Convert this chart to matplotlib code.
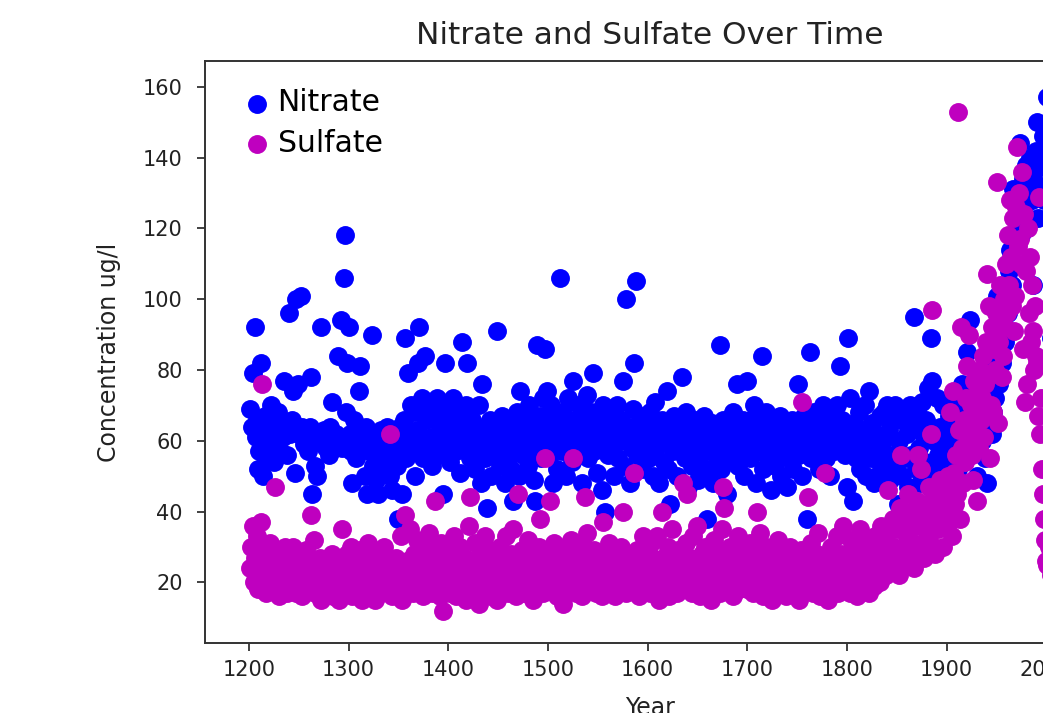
import matplotlib
matplotlib.use("Agg")
import matplotlib.pyplot as plt

nitrate_data = [
    (1201,69),(1203,64),(1204,79),(1206,92),(1207,61),(1208,66),(1209,52),(1210,57),(1212,82),(1213,60),
    (1214,50),(1216,67),(1217,55),(1219,63),(1220,58),(1222,70),(1223,62),(1225,54),(1226,64),(1228,60),
    (1229,68),(1231,57),(1232,63),(1234,61),(1235,77),(1237,65),(1238,56),(1240,96),(1241,62),(1243,66),
    (1244,74),(1246,51),(1247,100),(1249,76),(1250,62),(1252,101),(1253,64),(1255,59),(1256,62),(1258,63),
    (1259,57),(1261,64),(1262,78),(1263,45),(1265,61),(1266,53),(1268,50),(1269,60),(1271,62),(1272,92),
    (1274,59),(1275,63),(1277,58),(1278,62),(1280,56),(1281,64),(1283,71),(1284,60),(1286,58),(1287,62),
    (1289,84),(1290,60),(1292,94),(1293,58),(1295,106),(1296,118),(1297,68),(1298,82),(1300,92),
    (1301,62),(1302,57),(1303,48),(1305,60),(1306,66),(1308,55),(1309,61),(1311,74),(1312,81),(1314,58),
    (1315,62),(1317,50),(1318,64),(1319,45),(1321,57),(1322,62),(1324,90),(1325,53),(1327,61),(1328,49),
    (1330,45),(1331,58),(1333,63),(1334,55),(1336,60),(1337,52),(1339,64),(1340,58),(1342,50),(1343,62),
    (1344,46),(1346,57),(1347,61),(1349,53),(1350,38),(1352,64),(1353,59),(1354,45),(1356,66),(1357,89),
    (1358,55),(1360,79),(1361,62),(1363,70),(1364,57),(1366,68),(1367,50),(1369,63),(1370,82),(1371,92),
    (1372,60),(1374,72),(1375,55),(1377,84),(1378,66),(1380,58),(1381,70),(1383,61),(1384,53),(1386,67),
    (1387,60),(1389,72),(1390,56),(1392,63),(1393,69),(1395,45),(1396,58),(1397,82),(1399,64),
    (1400,66),(1402,54),(1403,60),(1405,72),(1406,62),(1408,57),(1409,68),(1411,63),(1412,51),(1414,88),
    (1415,65),(1417,58),(1418,70),(1419,82),(1421,61),(1422,55),(1424,66),(1425,60),(1427,52),(1428,64),
    (1430,57),(1431,70),(1433,48),(1434,76),(1436,62),(1437,55),(1439,41),(1440,60),(1442,66),(1443,50),
    (1445,58),(1446,63),(1448,56),(1449,91),(1451,61),(1452,53),(1454,67),(1455,58),(1457,48),(1458,62),
    (1460,55),(1461,65),(1463,52),(1465,43),(1466,60),(1468,57),(1469,68),(1471,50),(1472,74),(1474,63),
    (1475,56),(1477,66),(1478,60),(1480,53),(1481,70),(1483,58),(1484,64),(1486,49),(1487,43),(1489,87),
    (1490,61),(1492,67),(1493,55),(1495,72),(1496,59),(1497,86),(1499,74),
    (1500,63),(1502,56),(1503,70),(1505,48),(1506,66),(1508,59),(1509,52),(1511,64),(1512,106),(1514,57),
    (1515,68),(1517,61),(1518,50),(1520,72),(1521,58),(1523,64),(1524,54),(1525,77),(1527,60),(1528,66),
    (1530,56),(1531,70),(1533,62),(1534,48),(1536,65),(1537,58),(1539,73),(1540,55),(1542,62),(1543,68),
    (1545,79),(1546,57),(1548,63),(1549,51),(1551,66),(1552,60),(1554,46),(1555,70),(1557,40),(1558,62),
    (1560,56),(1561,67),(1563,59),(1564,64),(1566,50),(1567,62),(1569,70),(1570,55),(1572,60),(1573,66),
    (1575,77),(1576,53),(1578,100),(1579,61),(1581,64),(1582,48),(1584,58),(1585,69),(1586,82),(1588,105),
    (1589,56),(1591,62),(1592,67),(1594,52),(1595,60),(1597,65),(1598,57),
    (1600,62),(1601,55),(1603,68),(1604,60),(1606,50),(1608,71),(1609,58),(1611,64),(1612,48),(1614,61),
    (1615,66),(1617,54),(1618,60),(1620,74),(1621,52),(1623,42),(1624,63),(1626,57),(1627,67),(1629,60),
    (1630,50),(1632,65),(1633,58),(1635,78),(1636,62),(1638,55),(1639,68),(1641,47),(1642,60),(1644,64),
    (1645,53),(1647,58),(1648,66),(1650,61),(1651,49),(1653,56),(1654,63),(1656,59),(1657,67),(1659,52),
    (1660,38),(1662,62),(1663,57),(1665,65),(1666,48),(1668,60),(1669,56),(1671,63),(1673,87),(1674,52),
    (1676,66),(1677,59),(1679,61),(1680,45),(1682,57),(1683,64),(1685,55),(1686,68),(1688,60),(1690,76),
    (1691,53),(1693,62),(1694,58),(1696,66),(1697,50),(1699,63),
    (1700,77),(1701,60),(1703,55),(1704,66),(1706,58),(1707,70),(1709,48),(1710,62),(1712,57),(1713,65),
    (1715,84),(1716,52),(1718,60),(1719,68),(1721,55),(1722,63),(1724,46),(1725,59),(1727,65),(1728,53),
    (1730,61),(1731,56),(1733,67),(1734,50),(1736,62),(1737,58),(1739,64),(1740,47),(1742,55),(1743,60),
    (1745,66),(1746,52),(1748,58),(1749,63),(1751,76),(1752,56),(1754,62),(1755,50),(1757,67),(1758,59),
    (1760,38),(1761,64),(1763,85),(1764,55),(1766,61),(1767,68),(1769,57),(1770,63),(1772,52),(1773,66),
    (1775,59),(1776,70),(1778,60),(1779,55),(1781,64),(1783,50),(1784,62),(1786,68),(1787,57),(1789,63),
    (1790,70),(1792,59),(1793,81),(1795,66),(1796,61),(1798,56),
    (1800,47),(1801,89),(1802,62),(1803,72),(1804,58),(1806,43),(1807,65),(1809,55),(1810,60),(1812,68),
    (1813,52),(1815,63),(1816,57),(1818,70),(1819,50),(1821,60),(1822,74),(1824,55),(1825,65),(1827,48),
    (1828,62),(1830,50),(1831,58),(1833,67),(1834,53),(1836,60),(1837,68),(1839,56),(1840,70),(1842,63),
    (1843,49),(1845,66),(1846,56),(1848,70),(1849,52),(1851,42),(1852,60),(1854,66),(1855,50),(1857,69),
    (1858,55),(1860,62),(1861,47),(1863,70),(1864,56),(1866,65),(1867,95),(1869,52),(1870,68),(1872,58),
    (1873,48),(1875,71),(1876,62),(1878,54),(1879,66),(1881,75),(1882,50),(1884,89),(1885,77),(1887,60),
    (1888,46),(1890,72),(1891,56),(1893,64),(1894,52),(1896,70),(1897,58),(1899,48),
    (1900,60),(1901,54),(1903,67),(1904,50),(1906,62),(1907,72),(1909,58),(1910,65),(1912,52),(1913,70),
    (1915,60),(1916,76),(1918,64),(1919,55),(1921,85),(1922,68),(1924,94),(1925,62),(1927,66),(1928,58),
    (1930,72),(1931,50),(1933,64),(1934,78),(1936,60),(1937,70),(1939,55),(1940,74),(1941,48),(1943,66),
    (1944,80),(1946,62),(1947,68),(1949,72),(1950,84),(1951,101),(1953,76),(1954,90),(1956,82),(1957,95),
    (1959,88),(1960,100),(1962,96),(1963,108),(1964,114),(1966,104),(1967,131),(1968,118),(1970,110),(1971,122),
    (1972,128),(1974,144),(1975,118),(1977,134),(1978,126),(1980,138),(1981,120),(1983,132),(1984,140),(1986,128),
    (1987,104),(1988,136),(1990,142),(1991,150),(1992,123),(1994,141),(1995,132),(1997,146),(1998,128),(2000,138),
    (2001,157),(2003,148),(2004,130),(2005,89),(2006,152),(2007,140),(2009,120),
]

sulfate_data = [
    (1201,24),(1202,30),(1204,36),(1205,20),(1206,27),(1208,33),(1209,18),(1210,26),(1212,37),(1213,76),
    (1214,22),(1215,29),(1217,17),(1218,25),(1220,20),(1221,31),(1223,18),(1224,24),(1226,47),(1227,19),
    (1229,27),(1230,16),(1232,22),(1233,18),(1235,25),(1236,30),(1238,17),(1239,21),(1241,26),(1242,19),
    (1244,30),(1245,23),(1247,17),(1248,25),(1250,28),(1251,20),(1253,16),(1254,24),(1256,21),(1257,29),
    (1259,18),(1260,25),(1262,39),(1263,22),(1265,32),(1266,17),(1268,24),(1269,20),(1271,27),(1272,15),
    (1274,22),(1275,19),(1277,26),(1278,17),(1280,24),(1281,21),(1283,28),(1284,16),(1286,23),(1287,19),
    (1289,25),(1290,15),(1292,21),(1293,35),(1295,18),(1296,24),(1298,28),(1299,17),
    (1300,22),(1302,30),(1303,16),(1305,25),(1306,20),(1308,27),(1309,18),(1311,23),(1312,29),(1314,15),
    (1315,21),(1317,26),(1318,19),(1320,31),(1321,17),(1323,24),(1324,21),(1326,28),(1327,15),(1329,22),
    (1330,19),(1332,25),(1333,17),(1335,23),(1336,30),(1338,18),(1339,21),(1341,26),(1342,62),(1344,16),
    (1345,24),(1347,20),(1348,27),(1350,18),(1351,23),(1353,33),(1354,15),(1356,22),(1357,39),(1359,26),
    (1360,19),(1362,35),(1363,24),(1365,17),(1366,28),(1368,21),(1369,32),(1371,18),(1372,25),(1374,30),
    (1375,16),(1377,22),(1378,27),(1380,19),(1381,34),(1383,23),(1384,17),(1386,29),(1387,43),(1389,21),
    (1390,26),(1392,16),(1393,31),(1395,12),(1396,24),(1398,19),(1399,28),
    (1400,23),(1402,17),(1403,29),(1405,21),(1406,33),(1408,16),(1409,25),(1411,20),(1412,30),(1414,18),
    (1415,24),(1417,27),(1418,15),(1420,22),(1421,36),(1422,44),(1424,19),(1425,26),(1427,31),(1428,17),
    (1430,23),(1431,14),(1433,28),(1434,20),(1436,25),(1437,33),(1439,18),(1440,22),(1442,29),(1443,16),
    (1445,24),(1446,20),(1448,27),(1449,15),(1451,23),(1452,30),(1454,18),(1455,26),(1457,21),(1458,33),
    (1460,17),(1461,24),(1463,28),(1464,19),(1465,35),(1467,22),(1468,16),(1470,45),(1471,26),(1473,20),
    (1474,29),(1476,17),(1477,24),(1479,21),(1480,32),(1482,18),(1483,25),(1485,15),(1486,27),(1488,22),
    (1489,19),(1491,30),(1492,38),(1494,24),(1495,17),(1497,55),(1498,28),
    (1500,21),(1502,43),(1503,26),(1505,18),(1506,31),(1508,23),(1509,16),(1511,27),(1512,20),(1514,24),
    (1515,14),(1517,29),(1518,22),(1520,18),(1521,25),(1523,32),(1524,19),(1525,55),(1527,23),(1528,17),
    (1530,28),(1531,21),(1533,25),(1534,16),(1536,30),(1537,44),(1539,34),(1540,20),(1542,26),(1543,18),
    (1545,23),(1546,29),(1548,17),(1549,24),(1551,21),(1552,27),(1554,16),(1555,37),(1557,22),(1558,19),
    (1560,26),(1561,31),(1563,18),(1564,23),(1566,28),(1567,16),(1569,21),(1570,25),(1572,19),(1573,30),
    (1575,40),(1576,22),(1578,17),(1579,26),(1581,20),(1582,28),(1584,24),(1585,18),(1586,51),(1588,23),
    (1589,29),(1591,16),(1592,25),(1594,21),(1595,33),(1597,19),(1598,26),
    (1600,22),(1601,28),(1603,17),(1604,31),(1606,24),(1607,19),(1609,26),(1610,33),(1612,15),(1613,21),
    (1615,40),(1616,27),(1618,18),(1619,24),(1621,30),(1622,16),(1624,22),(1625,35),(1627,20),(1628,26),
    (1630,17),(1631,29),(1633,23),(1634,19),(1636,48),(1637,25),(1639,31),(1640,45),(1642,21),(1643,27),
    (1645,17),(1646,33),(1648,23),(1649,19),(1650,36),(1652,25),(1653,16),(1655,28),(1656,21),(1658,30),
    (1659,18),(1661,24),(1662,27),(1664,15),(1665,22),(1667,32),(1668,19),(1670,25),(1671,28),(1673,17),
    (1674,23),(1675,35),(1676,47),(1677,41),(1679,20),(1680,26),(1682,18),(1683,30),(1685,22),(1686,16),
    (1688,27),(1689,21),(1691,33),(1692,18),(1694,25),(1695,29),(1697,20),(1698,24),
    (1700,18),(1701,26),(1703,31),(1704,21),(1706,17),(1707,28),(1709,23),(1710,40),(1712,19),(1713,34),
    (1715,25),(1716,16),(1718,22),(1719,30),(1721,18),(1722,26),(1724,21),(1725,15),(1727,28),(1728,23),
    (1730,19),(1731,32),(1733,17),(1734,24),(1736,21),(1737,28),(1739,16),(1740,25),(1742,19),(1743,30),
    (1745,22),(1746,17),(1748,27),(1749,20),(1751,24),(1752,15),(1754,29),(1755,71),(1757,22),(1758,18),
    (1760,26),(1761,44),(1763,20),(1764,31),(1766,17),(1767,24),(1769,21),(1770,28),(1771,34),(1773,16),
    (1775,23),(1776,19),(1778,51),(1779,27),(1781,15),(1782,22),(1784,30),(1785,18),(1787,25),(1788,20),
    (1790,33),(1791,17),(1793,24),(1794,28),(1796,36),(1797,21),(1799,26),
    (1800,20),(1801,27),(1803,17),(1804,32),(1806,23),(1807,19),(1809,28),(1810,16),(1812,24),(1813,35),
    (1815,21),(1816,18),(1818,27),(1819,31),(1821,22),(1822,17),(1824,25),(1825,29),(1827,19),(1828,33),
    (1830,23),(1831,27),(1833,20),(1834,36),(1836,25),(1837,30),(1839,22),(1840,34),(1841,46),(1843,27),
    (1844,24),(1846,38),(1847,30),(1849,26),(1850,35),(1852,22),(1853,41),(1854,56),(1856,29),(1857,37),
    (1859,25),(1860,33),(1861,45),(1863,28),(1864,40),(1866,31),(1867,24),(1869,36),(1870,43),(1871,56),
    (1873,30),(1874,52),(1876,38),(1877,27),(1879,42),(1880,34),(1882,47),(1883,31),(1884,62),(1885,97),
    (1887,39),(1888,28),(1890,44),(1891,35),(1893,49),(1894,41),(1896,30),(1897,46),(1899,38),
    (1900,44),(1901,36),(1902,50),(1903,40),(1904,68),(1905,47),(1906,33),(1907,74),(1908,51),(1909,42),
    (1910,56),(1911,45),(1912,153),(1913,63),(1914,38),(1915,92),(1916,58),(1917,48),(1918,66),(1919,54),
    (1920,72),(1921,81),(1922,60),(1923,90),(1924,64),(1925,70),(1926,56),(1927,49),(1928,77),(1929,62),
    (1930,68),(1931,43),(1932,74),(1933,58),(1934,80),(1935,66),(1936,72),(1937,84),(1938,61),(1939,76),
    (1940,88),(1941,107),(1942,78),(1943,98),(1944,55),(1945,70),(1946,92),(1947,68),(1948,86),(1949,80),
    (1950,96),(1951,133),(1952,65),(1953,88),(1954,104),(1955,94),(1956,78),(1957,84),(1958,100),(1959,92),
    (1960,110),(1961,96),(1962,118),(1963,104),(1964,128),(1965,112),(1966,98),(1967,123),(1968,91),(1969,101),
    (1970,126),(1971,143),(1972,115),(1973,130),(1974,117),(1975,110),(1976,136),(1977,86),(1978,124),(1979,71),
    (1980,108),(1981,76),(1982,120),(1983,96),(1984,112),(1985,88),(1986,104),(1987,91),(1988,80),(1989,98),
    (1990,84),(1991,82),(1992,67),(1993,129),(1994,62),(1995,72),(1996,52),(1997,45),(1998,38),(1999,32),
    (2000,26),(2001,25),(2003,30),(2005,22),(2007,24),(2009,20),
]

series_labels = ["Nitrate", "Sulfate"]
series_colors = ["b", "m"]
title_text = "Nitrate and Sulfate Over Time"
x_label = "Year"
y_label = "Concentration ug/l"
x_ticks = [1200, 1300, 1400, 1500, 1600, 1700, 1800, 1900, 2000]
y_ticks = [20, 40, 60, 80, 100, 120, 140, 160]

nitrate_year = [p[0] for p in nitrate_data]
nitrate_value = [p[1] for p in nitrate_data]
sulfate_year = [p[0] for p in sulfate_data]
sulfate_value = [p[1] for p in sulfate_data]

W, H, DPI = 1043, 713, 100
fig = plt.figure(figsize=(W / DPI, H / DPI), dpi=DPI)
left_px, right_px, top_px, bottom_px = 205, 1095, 61, 643
ax = fig.add_axes([left_px / W, 1 - bottom_px / H, (right_px - left_px) / W, (bottom_px - top_px) / H])

dot = 185
ax.scatter(nitrate_year, nitrate_value, s=dot, c=series_colors[0], label=series_labels[0], linewidths=0)
ax.scatter(sulfate_year, sulfate_value, s=dot, c=series_colors[1], label=series_labels[1], linewidths=0)

ax.set_xlim(1156, 2049)
ax.set_ylim(2.85, 167.3)
ax.set_xticks(x_ticks)
ax.set_yticks(y_ticks)
ax.tick_params(axis="both", labelsize=15, length=6, width=1.3, color="#333333", labelcolor="#222222")
ax.tick_params(axis="y", pad=10)
ax.tick_params(axis="x", pad=6)
for sp in ax.spines.values():
    sp.set_linewidth(1.4)
    sp.set_color("#333333")

ax.set_title(title_text, fontsize=22.5, color="#222222", pad=12)
ax.set_xlabel(x_label, fontsize=17, color="#222222", labelpad=12)
ax.set_ylabel(y_label, fontsize=17, color="#222222", labelpad=16)
ax.legend(loc="upper left", bbox_to_anchor=(0.0412, 0.953), frameon=False, fontsize=21.5,
          handlelength=1.0, handletextpad=0.2, borderaxespad=0, borderpad=0,
          labelspacing=0.38, markerscale=1.0)

fig.savefig("out.png", dpi=DPI)
